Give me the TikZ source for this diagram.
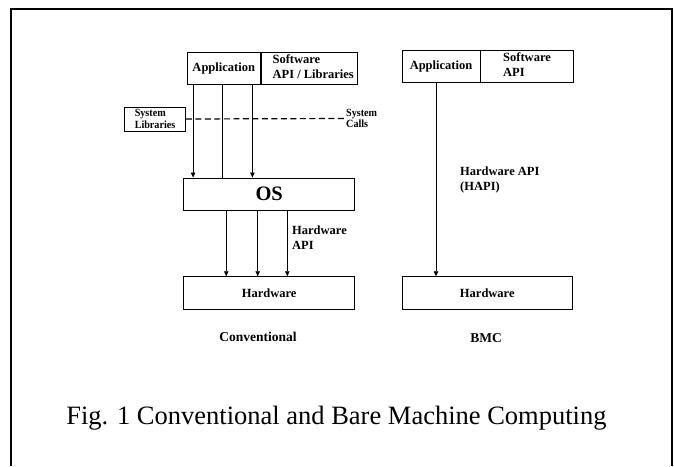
\documentclass[tikz,border=0pt]{standalone}
\usepackage{fontspec}
\setmainfont{Liberation Serif}
\newfontfamily\narrowserif[FakeStretch=0.92]{Liberation Serif}
\usetikzlibrary{arrows.meta,calc}

\tikzset{
  box/.style={draw, line width=0.8pt, inner sep=0pt, font=\bfseries\fontsize{12.5}{15}\selectfont},
  lbl/.style={align=left, inner sep=0pt, font=\bfseries\fontsize{12.5}{15}\selectfont},
  small/.style={align=left, inner sep=0pt, font=\narrowserif\bfseries\fontsize{11}{11.5}\selectfont},
  arr/.style={-{Triangle[length=5pt,width=4.5pt]}, line width=0.8pt},
}

\begin{document}
\begin{tikzpicture}[x=1pt,y=-1pt]
\useasboundingbox (0,0) rectangle (674,466);
\draw[line width=1.3pt] (11,466) -- (11,9) -- (672,9) -- (672,466);

% conventional side
\node[box, minimum width=73.5pt, minimum height=31.6pt] (appl) at (223.75,68.5) {Application};
\node[box, minimum width=96.5pt, minimum height=31.6pt, anchor=west] (swl) at (appl.east) {};
\node[lbl, anchor=west] (swltext) at ([xshift=11.5pt,yshift=1.5pt]swl.west) {Software\\API / Libraries};
\node[box, minimum width=171pt, minimum height=32.7pt, font=\bfseries\fontsize{20.5}{24}\selectfont] (os) at (269.2,194.3) {OS};
\node[box, minimum width=171pt, minimum height=32.3pt] (hwl) at (269.2,292.8) {Hardware};
\node[draw, line width=0.8pt, small, minimum width=61pt, minimum height=24pt] (syslib) at (155,119) {System\\Libraries};
\node[small, anchor=west] (syscall) at (346,118.5) {System\\Calls};
\node[lbl, anchor=west] (hwapi) at (292,237.5) {Hardware\\API};
\node[font=\bfseries\fontsize{13.5}{16}\selectfont] (conv) at (258,336.7) {Conventional};

\draw[arr] ([xshift=6.5pt]appl.south west) -- ([xshift=6.5pt]appl.south west |- os.north);
\draw[line width=0.8pt] ([xshift=35.7pt]appl.south west) -- ([xshift=35.7pt]appl.south west |- os.north);
\draw[arr] ([xshift=65.8pt]appl.south west) -- ([xshift=65.8pt]appl.south west |- os.north);
\draw[dashed, dash pattern=on 6pt off 3.5pt, line width=1.2pt, shorten >=2pt] (syslib.east) -- (syscall.west);
\foreach \dx in {43,74.4,104} {
  \draw[arr] ([xshift=\dx pt]os.south west) -- ([xshift=\dx pt]os.south west |- hwl.north);
}

% bare machine side
\node[box, minimum width=78pt, minimum height=31.6pt] (appr) at (441,66.5) {Application};
\node[box, minimum width=93pt, minimum height=31.6pt, anchor=west] (swr) at (appr.east) {};
\node[lbl, anchor=west] (swrtext) at ([xshift=22.6pt,yshift=1.5pt]swr.west) {Software\\API};
\node[box, minimum width=170.6pt, minimum height=32.3pt] (hwr) at (487.3,292.8) {Hardware};
\node[lbl, anchor=west] (hapi) at (460,180) {Hardware API\\(HAPI)};
\node[font=\bfseries\fontsize{13.5}{16}\selectfont] (bmc) at (486,338) {BMC};

\draw[arr] ([xshift=34.4pt]appr.south west) -- ([xshift=34.4pt]appr.south west |- hwr.north);

% caption
\node[font=\fontsize{26.5}{30}\selectfont] (caption) at (336.4,418) {Fig. 1 Conventional and Bare Machine Computing};
\end{tikzpicture}
\end{document}
